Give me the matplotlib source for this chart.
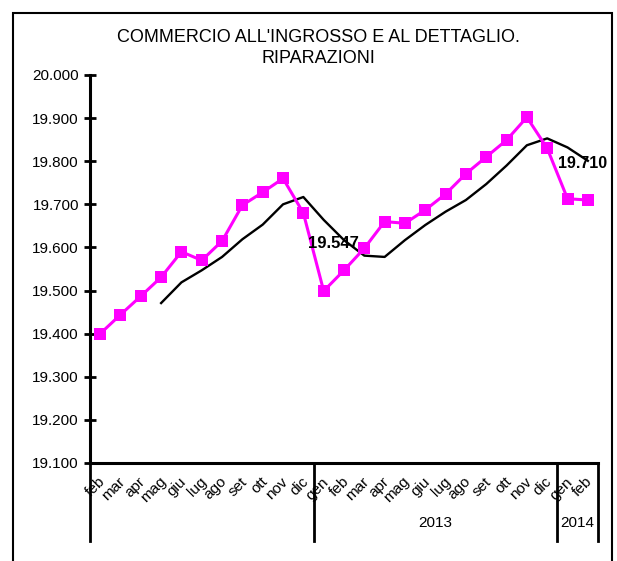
import numpy as np
import matplotlib
matplotlib.use("Agg")
import matplotlib.pyplot as plt
from matplotlib.patches import Rectangle

plt.rcParams['font.family'] = ['Liberation Sans', 'DejaVu Sans']

# months from feb 2012 to feb 2014
months = ['feb', 'mar', 'apr', 'mag', 'giu', 'lug', 'ago', 'set', 'ott', 'nov', 'dic',
          'gen', 'feb', 'mar', 'apr', 'mag', 'giu', 'lug', 'ago', 'set', 'ott', 'nov', 'dic',
          'gen', 'feb']
# year groups: (label, first index, last index)
years = [('', 0, 10), ('2013', 11, 22), ('2014', 23, 24)]

# monthly series (thousands)
serie = [19.400, 19.444, 19.487, 19.531, 19.590, 19.570, 19.615, 19.698, 19.728, 19.760, 19.680,
         19.499, 19.547, 19.598, 19.660, 19.656, 19.687, 19.724, 19.771, 19.810, 19.849, 19.902, 19.830,
         19.713, 19.710]
# trend (no values for the first three months)
trend = [np.nan, np.nan, np.nan, 19.471, 19.519, 19.547, 19.578, 19.619, 19.653, 19.700, 19.717,
         19.664, 19.617, 19.581, 19.578, 19.617, 19.652, 19.683, 19.710, 19.747, 19.790, 19.837, 19.853,
         19.832, 19.801]

yticks = [19.1, 19.2, 19.3, 19.4, 19.5, 19.6, 19.7, 19.8, 19.9, 20.0]
ytick_labels = ['19.100', '19.200', '19.300', '19.400', '19.500', '19.600', '19.700',
                '19.800', '19.900', '20.000']

title = "COMMERCIO ALL'INGROSSO E AL DETTAGLIO.\nRIPARAZIONI"

W, H = 617, 561
fig = plt.figure(figsize=(W / 100, H / 100), dpi=100)
ax = fig.add_axes([90 / W, (H - 463) / H, (598 - 90) / W, (463 - 75) / H])

x = np.arange(len(months))
ax.plot(x, trend, color='black', lw=1.7, zorder=2)
ax.plot(x, serie, color='#ff00ff', lw=2.2, marker='s', markersize=8.5,
        markeredgewidth=0, zorder=3)

ax.set_xlim(-0.5, len(months) - 0.5)
ax.set_ylim(19.1, 20.0)
ax.set_yticks(yticks)
ax.set_yticklabels(ytick_labels, fontsize=11)
ax.tick_params(axis='y', direction='inout', length=8, width=2, pad=4)
ax.set_xticks([])

for side in ['top', 'right']:
    ax.spines[side].set_visible(False)
ax.spines['left'].set_linewidth(2.2)
ax.spines['bottom'].set_linewidth(2.2)

# month labels
tr = ax.get_xaxis_transform()
for i, m in enumerate(months):
    ax.text(i - 0.12, -0.03, m, transform=tr, rotation=45, ha='right', va='top',
            rotation_mode='anchor', fontsize=11)

# year group separators and labels
edges = sorted(set([g[1] - 0.5 for g in years] + [years[-1][2] + 0.5]))
for e in edges:
    ax.plot([e, e], [0, -0.2], transform=tr, color='black', lw=2, clip_on=False)
for lab, a, b in years:
    ax.text((a + b) / 2, -0.155, lab, transform=tr, ha='center', va='center', fontsize=11)

# data labels
ax.text(11.5, 19.608, '19.547', ha='center', va='center', fontsize=12, fontweight='bold')
ax.text(23.75, 19.795, '19.710', ha='center', va='center', fontsize=11.5, fontweight='bold')

fig.text(318 / W, 1 - 48 / H, title, ha='center', va='center', fontsize=13, linespacing=1.3)

fig.patches.append(Rectangle((13 / W, -0.1), (612 - 13) / W, (H - 13) / H + 0.1,
                             transform=fig.transFigure, fill=False, lw=1.5,
                             edgecolor='black'))

fig.savefig('out.png', dpi=100)
